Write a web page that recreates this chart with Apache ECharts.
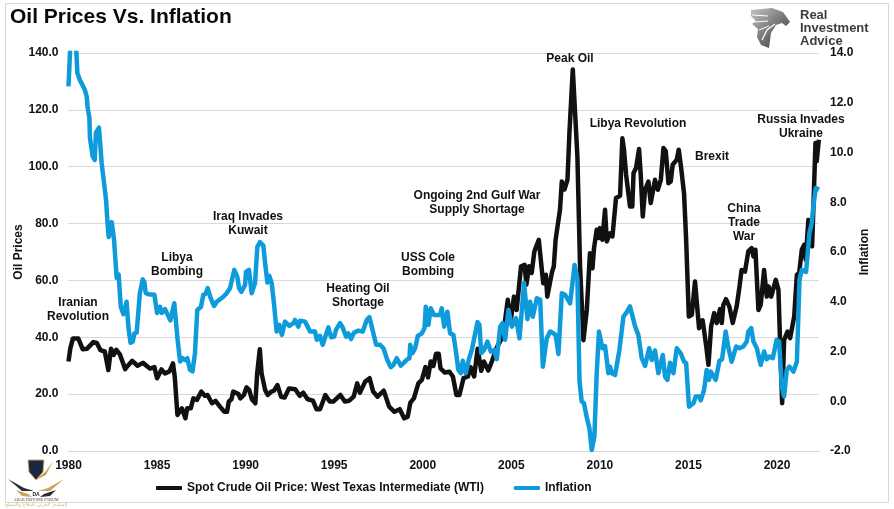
<!DOCTYPE html>
<html>
<head>
<meta charset="utf-8">
<style>html,body{margin:0;padding:0;background:#fff}#main{width:894px;height:509px}</style>
<script src="https://cdn.jsdelivr.net/npm/echarts@6/dist/echarts.min.js"></script>
</head>
<body>
<div id="main"></div>
<script>
var oilName = 'Spot Crude Oil Price: West Texas Intermediate (WTI)';
var inflationName = 'Inflation';

// as decimal year + value
var oilYears = [1980,1980.1,1980.25,1980.55,1980.8,1981.05,1981.4,1981.6,1981.8,1982.05,1982.25,1982.4,1982.55,1982.7,1982.9,1983.2,1983.35,1983.6,1983.9,1984.2,1984.6,1984.85,
1985,1985.25,1985.45,1985.7,1985.9,1986,1986.15,1986.4,1986.6,1986.7,1986.9,1987.05,1987.25,1987.5,1987.7,1987.85,1988.1,1988.3,1988.55,1988.8,1988.95,1989.05,1989.2,1989.3,1989.6,1989.7,1989.9,
1990.05,1990.2,1990.35,1990.55,1990.65,1990.8,1990.9,1991.1,1991.25,1991.45,1991.6,1991.8,1992,1992.2,1992.45,1992.8,1993.05,1993.25,1993.5,1993.8,1994,1994.2,1994.5,1994.75,1994.95,
1995.35,1995.6,1995.85,1996.1,1996.3,1996.45,1996.75,1997,1997.2,1997.45,1997.8,1998.1,1998.4,1998.7,1998.95,1999.15,1999.3,1999.5,1999.75,1999.95,
2000.15,2000.3,2000.45,2000.6,2000.75,2000.9,2001,2001.25,2001.5,2001.7,2001.9,2002.07,2002.3,2002.55,2002.7,2002.9,2003.1,2003.3,2003.45,2003.7,2003.9,2004.15,2004.4,2004.55,2004.8,2004.95,
2005.15,2005.3,2005.55,2005.75,2005.85,2006,2006.15,2006.3,2006.55,2006.8,2006.95,2007.03,2007.3,2007.4,2007.5,2007.6,2007.75,2007.85,2008,2008.17,2008.28,2008.47,2008.56,2008.73,2008.88,2009.07,2009.26,2009.44,2009.58,2009.67,2009.82,2009.95,
2010,2010.14,2010.29,2010.39,2010.57,2010.71,2010.91,2011.14,2011.27,2011.36,2011.48,2011.57,2011.7,2011.83,2011.9,2012.04,2012.21,2012.3,2012.42,2012.55,2012.74,2012.87,2013.11,2013.27,2013.44,2013.59,2013.72,2013.87,2014,2014.11,2014.34,2014.45,2014.58,2014.75,2014.87,
2015.02,2015.19,2015.37,2015.47,2015.6,2015.8,2016,2016.13,2016.28,2016.45,2016.6,2016.78,2016.88,2016.97,2017.12,2017.31,2017.5,2017.72,2017.87,2018,2018.19,2018.38,2018.57,2018.67,2018.78,2018.95,2019.08,2019.27,2019.42,2019.52,2019.67,2019.8,2019.93,
2020.08,2020.17,2020.29,2020.4,2020.59,2020.74,2020.85,2020.97,2021.12,2021.25,2021.4,2021.53,2021.62,2021.77,2021.87,2021.98,2022.05,2022.17,2022.24,2022.36];
var oilPrices = [31.5,36,39.6,39.6,35.8,36,38.3,38,35.5,35,28.5,36,33.8,35.6,34,28.8,30,31.7,30,31,29,29.5,
25.6,28.7,27.3,28,30.8,26,12.7,15,11.5,15,15,18.5,18,20.9,19.4,19.7,16.8,17.6,15.6,13.8,13.8,17.4,18.2,20.9,20,18.5,19.7,
22.4,21.5,18.2,16.8,27.3,35.8,27.3,21.5,19.7,20.9,21.2,23.2,19.1,18.8,22,21.7,19.4,20.5,18.2,17.7,14.7,14.7,19.7,17.4,17.4,
19.7,17.4,17.7,19.1,23.8,20.5,24.4,25.6,20.9,19.1,21.2,15.6,13.8,14.7,11.5,12.1,17,18.5,23.8,25,
29.5,25.9,31.5,29.9,34.2,34.2,29.1,27.6,27.9,26.2,19.7,19.7,25.6,26.2,29.5,26.2,36,28.2,31.5,28.3,31.5,36,39,41.4,53.2,45,
54.3,49.6,65,65.5,58.5,65,62.6,70.2,74.3,59,62,54.3,63,65,74.3,73.7,85,94.8,92,95.4,111.9,134.2,134,103.6,65,39,49.6,69.6,64.3,71.4,77.8,74.9,
78.4,74.3,84.9,73.7,76.6,75.5,89,89.8,110,106,97.2,97.2,86,86,97.8,99.5,106.2,97.8,82.5,91.9,94.8,87.2,95.4,91.9,95.4,106.6,105.4,94.2,94.8,100.7,102.5,106,100,90.7,74.3,
47.3,47.9,59.6,59.6,43.2,46,37,30.3,43.8,48.5,45,49.9,45,51.4,53.4,50.8,45,50.8,57.3,63.7,63.1,70.2,71.4,68.4,70.8,49.6,51.4,63.7,54.3,57.9,54.3,57.3,60.2,
56.7,39,16.8,39,42,39.7,39.7,47.3,62,62.6,70.8,72.5,67.3,81.3,81.3,72,84.9,108.3,101.9,109.5];

var inflationYears = [1980,1980.12,1980.3,1980.42,1980.5,1980.65,1980.8,1980.93,1981.03,1981.08,1981.18,1981.21,1981.36,1981.48,1981.55,1981.72,1981.87,1982,1982.12,1982.2,1982.27,1982.36,1982.44,1982.57,1982.72,1982.83,1982.95,1983.1,1983.28,1983.38,1983.5,1983.63,1983.72,1983.85,1984.03,1984.19,1984.28,1984.36,1984.5,1984.85,
1985,1985.17,1985.26,1985.45,1985.75,1985.85,1985.97,1986.07,1986.16,1986.3,1986.45,1986.58,1986.71,1986.86,1987,1987.14,1987.27,1987.48,1987.61,1987.75,1987.86,1988.03,1988.22,1988.37,1988.46,1988.74,1988.93,1989.12,1989.36,1989.53,1989.63,1989.76,1989.97,
1990.02,1990.19,1990.34,1990.53,1990.66,1990.81,1991,1991.1,1991.23,1991.34,1991.47,1991.6,1991.75,1991.9,1992.05,1992.22,1992.47,1992.7,1992.79,1992.98,1993.07,1993.36,1993.64,1993.92,1994.02,1994.2,1994.35,1994.67,1994.83,
1995,1995.1,1995.33,1995.46,1995.67,1995.8,1995.95,1996.12,1996.37,1996.61,1996.84,1996.99,1997.12,1997.37,1997.59,1997.78,1998,1998.19,1998.34,1998.53,1998.76,1998.91,1999.13,1999.25,1999.29,1999.42,1999.57,1999.72,1999.95,
2000.1,2000.17,2000.32,2000.45,2000.64,2000.98,2001.07,2001.21,2001.39,2001.54,2001.73,2001.86,2002.01,2002.15,2002.26,2002.43,2002.62,2002.77,2003.09,2003.2,2003.3,2003.46,2003.65,2003.84,2004.03,2004.18,2004.37,2004.5,2004.65,2004.84,
2005.03,2005.27,2005.46,2005.72,2005.91,2006.06,2006.21,2006.44,2006.63,2006.78,2007,2007.19,2007.38,2007.5,2007.66,2007.85,2008.04,2008.32,2008.57,2008.73,2008.85,2008.97,2009.1,2009.25,2009.41,2009.54,2009.69,2009.82,2009.95,
2010.05,2010.14,2010.29,2010.48,2010.57,2010.67,2010.86,2011.1,2011.33,2011.51,2011.7,2011.99,2012.17,2012.36,2012.55,2012.78,2012.93,2013.11,2013.3,2013.55,2013.68,2013.81,2013.96,2014.15,2014.34,2014.56,2014.75,2014.87,
2015.03,2015.28,2015.41,2015.6,2015.69,2015.88,2016.03,2016.16,2016.26,2016.54,2016.75,2016.9,2017.1,2017.26,2017.44,2017.69,2017.88,2018.1,2018.29,2018.38,2018.54,2018.67,2018.86,2019.08,2019.27,2019.42,2019.57,2019.76,2019.98,
2020.12,2020.27,2020.4,2020.55,2020.7,2020.93,2021.12,2021.27,2021.4,2021.64,2021.83,2021.96,2022.05,2022.19,2022.37];
var inflationValues = [12.66,14.6,14.7,14.4,13.2,12.9,12.7,12.5,12.25,11.8,11.4,10.6,9.85,9.7,10.8,11,9.6,8.8,8.1,7.2,6.6,6.6,7.2,6.5,4.95,5.1,3.8,3.5,4,3,2.35,2.4,2.73,2.76,4.35,4.9,4.8,4.35,4.3,4.28,
3.55,3.8,3.55,3.7,3.25,3.27,3.94,3.97,2.47,1.6,1.73,1.66,1.73,1.26,1.2,1.93,3.67,3.8,4.28,4.32,4.55,4.14,3.83,4,3.97,4.2,4.34,4.55,5.28,5,4.55,4.4,4.68,
5.2,5.28,4.34,4.75,6.2,6.4,6.26,5.55,4.77,5.04,4.75,3.94,2.8,3.07,2.67,3.2,3.03,3.14,3.27,3,3.24,3.2,2.8,2.8,2.47,2.63,2.27,2.97,2.57,
2.6,2.87,3.14,3,2.6,2.73,2.5,2.76,2.84,2.8,3.27,3.38,3,2.27,2.27,2.13,1.66,1.37,1.46,1.73,1.43,1.53,1.69,1.73,2.27,1.93,2.13,2.63,2.73,
2.94,3.8,3.07,3.74,3.47,3.47,3.74,3,3.6,2.73,2.67,2.06,1.26,1.13,1.63,1.13,1.73,2.06,3.18,3.07,1.93,2.06,2.4,2,2.06,1.69,3,3.14,2.47,3.67,
3,3.34,2.53,4.75,3.3,4,3.4,4.14,4.08,1.39,2.53,2.8,2.73,2.67,1.9,4.34,4.28,3.94,5.48,4.95,0.8,0,-0.08,-0.62,-1.09,-1.96,-1.42,1.13,2.8,
2.73,2.13,2.22,1.13,1.39,1.13,1.06,2.06,3.4,3.57,3.81,3,2.67,1.73,1.42,2.13,1.66,2.04,1.13,1.86,0.99,0.86,1.55,1.13,2.13,1.93,1.59,1.53,
-0.22,-0.08,0.19,0.19,0.03,0.45,1.26,0.86,1.19,0.86,1.63,1.69,2.8,2.13,1.59,2.2,2.13,2.2,2.4,2.8,2.94,2.4,2.13,1.46,2,1.69,1.8,1.73,2.47,
2.4,0.59,0.19,1.26,1.39,1.19,1.59,4.88,5.28,5.2,6.76,7.16,7.83,8.57,8.5];

var eventLabels = ['Iranian\nRevolution','Libya\nBombing','Iraq Invades\nKuwait','Heating Oil\nShortage','USS Cole\nBombing','Ongoing 2nd Gulf War\nSupply Shortage','Peak Oil','Libya Revolution','Brexit','China\nTrade\nWar','Russia Invades\nUkraine'];
var eventX = [78,177,248,358,428,477,570,638,712,744,801];
var eventY = [310,265,224,296,265,203,59,124,157,223,127];

function pairs(xs, ys) {
    return xs.map(function (x, i) { return [x, ys[i]]; });
}

var font = 'Arial, "Liberation Sans", sans-serif';
var logoGrey = {type: 'linear', x: 0, y: 0, x2: 1, y2: 1, colorStops: [{offset: 0, color: '#c4c4c4'}, {offset: 1, color: '#2f2f2f'}]};
var graphics = [
    {type: 'rect', z: 0, shape: {x: 5.5, y: 3.5, width: 883, height: 499}, style: {fill: null, stroke: '#d9d9d9', lineWidth: 1}},
    {type: 'text', x: 10, y: 17.5, style: {text: 'Oil Prices Vs. Inflation', font: 'bold 21px ' + font, fill: '#0a0a0a', verticalAlign: 'middle'}},
    // Real Investment Advice logo
    {type: 'polygon', shape: {points: [[751,10],[772,8],[783,12],[790,22],[786,26],[782,23],[776,25],[771,33],[769,48],[761,45],[757,37],[758,29],[752,24],[756,21],[751,16]]}, style: {fill: logoGrey}},
    {type: 'polyline', shape: {points: [[752,15],[768,16]]}, style: {stroke: '#fff', lineWidth: 1, fill: null}},
    {type: 'polyline', shape: {points: [[755,22],[768,21]]}, style: {stroke: '#fff', lineWidth: 1, fill: null}},
    {type: 'polyline', shape: {points: [[759,30],[769,26]]}, style: {stroke: '#fff', lineWidth: 1, fill: null}},
    {type: 'polyline', shape: {points: [[762,40],[767,30],[775,24]]}, style: {stroke: '#fff', lineWidth: 1.2, fill: null}},
    {type: 'text', x: 800, y: 15, style: {text: 'Real', font: 'bold 13px ' + font, fill: '#3c3c3c', verticalAlign: 'middle'}},
    {type: 'text', x: 800, y: 28, style: {text: 'Investment', font: 'bold 13px ' + font, fill: '#3c3c3c', verticalAlign: 'middle'}},
    {type: 'text', x: 800, y: 41, style: {text: 'Advice', font: 'bold 13px ' + font, fill: '#3c3c3c', verticalAlign: 'middle'}},
    // watermark bottom left
    {type: 'polygon', z: 20, shape: {points: [[28,460],[44,460],[43,472],[36,480],[29,472]]}, style: {fill: '#17283f', stroke: '#c9a45c', lineWidth: 1}},
    {type: 'polygon', z: 20, shape: {points: [[36,480],[46,471],[53,461],[46,475]]}, style: {fill: '#c9a45c'}},
    {type: 'polygon', z: 20, shape: {points: [[8,479],[24,488],[34,491],[22,491]]}, style: {fill: '#2a2a33'}},
    {type: 'polygon', z: 20, shape: {points: [[64,479],[48,488],[38,491],[50,491]]}, style: {fill: '#c9a45c'}},
    {type: 'polygon', z: 20, shape: {points: [[16,490],[28,494],[32,497],[22,496]]}, style: {fill: '#c9a45c'}},
    {type: 'polygon', z: 20, shape: {points: [[56,490],[44,494],[40,497],[50,496]]}, style: {fill: '#2a2a33'}},
    {type: 'text', z: 20, x: 36, y: 495, style: {text: 'DA', font: 'bold 5px ' + font, fill: '#222', align: 'center', verticalAlign: 'middle'}},
    {type: 'text', z: 20, x: 36, y: 500, style: {text: 'ARAB DEFENSE FORUM', font: '4px "Liberation Serif", serif', fill: '#444', align: 'center', verticalAlign: 'middle'}},
    {type: 'text', z: 20, x: 36, y: 505, style: {text: 'المنتدى العربي للدفاع والتسلح', font: '5px "DejaVu Sans", sans-serif', fill: '#d8b77a', align: 'center', verticalAlign: 'middle'}}
];
eventLabels.forEach(function (label, i) {
    graphics.push({type: 'text', z: 10, x: eventX[i], y: eventY[i], style: {
        text: label, font: 'bold 12px ' + font, lineHeight: 14, fill: '#111', align: 'center', verticalAlign: 'middle'
    }});
});

var myChart = echarts.init(document.getElementById('main'));

myChart.setOption({
    animation: false,
    backgroundColor: '#fff',
    grid: {left: 68.5, right: 75, top: 53, bottom: 58},
    legend: {
        left: 151, top: 477, itemWidth: 26, itemGap: 30,
        textStyle: {fontFamily: font, fontWeight: 'bold', fontSize: 12, color: '#111'},
        data: [
            {name: oilName, icon: 'roundRect', itemStyle: {color: '#111'}},
            {name: inflationName, icon: 'roundRect', itemStyle: {color: '#0e9bdc'}}
        ],
        itemHeight: 4
    },
    xAxis: {
        type: 'value', min: 1980, max: 2022.37, interval: 5,
        splitLine: {show: false},
        axisLine: {show: true, onZero: false, lineStyle: {color: '#d9d9d9'}},
        axisTick: {show: false},
        axisLabel: {
            fontFamily: font, fontWeight: 'bold', fontSize: 12, color: '#111', margin: 9, showMaxLabel: false,
            formatter: function (v) { return v % 5 === 0 ? String(v) : ''; }
        }
    },
    yAxis: [
        {
            type: 'value', min: 0, max: 140, interval: 20,
            name: 'Oil Prices', nameLocation: 'middle', nameGap: 44, nameMoveOverlap: false,
            nameTextStyle: {fontFamily: font, fontWeight: 'bold', fontSize: 12, color: '#111'},
            splitLine: {lineStyle: {color: '#d9d9d9'}},
            axisLine: {show: false}, axisTick: {show: false},
            axisLabel: {fontFamily: font, fontWeight: 'bold', fontSize: 12, color: '#111', margin: 10, formatter: function (v) { return v.toFixed(1); }}
        },
        {
            type: 'value', min: -2, max: 14, interval: 2, position: 'right',
            name: 'Inflation', nameLocation: 'middle', nameGap: 40, nameMoveOverlap: false,
            nameTextStyle: {fontFamily: font, fontWeight: 'bold', fontSize: 12, color: '#111'},
            splitLine: {show: false},
            axisLine: {show: false}, axisTick: {show: false},
            axisLabel: {fontFamily: font, fontWeight: 'bold', fontSize: 12, color: '#111', margin: 11, formatter: function (v) { return v.toFixed(1); }}
        }
    ],
    series: [
        {
            name: oilName, type: 'line', yAxisIndex: 0, showSymbol: false, symbol: 'none', clip: true,
            lineStyle: {color: '#111', width: 4.5, join: 'round'}, itemStyle: {color: '#111'},
            data: pairs(oilYears, oilPrices)
        },
        {
            name: inflationName, type: 'line', yAxisIndex: 1, showSymbol: false, symbol: 'none', clip: true,
            lineStyle: {color: '#0e9bdc', width: 4.5, join: 'round'}, itemStyle: {color: '#0e9bdc'},
            data: pairs(inflationYears, inflationValues)
        }
    ],
    graphic: {elements: graphics}
});
</script>
</body>
</html>
